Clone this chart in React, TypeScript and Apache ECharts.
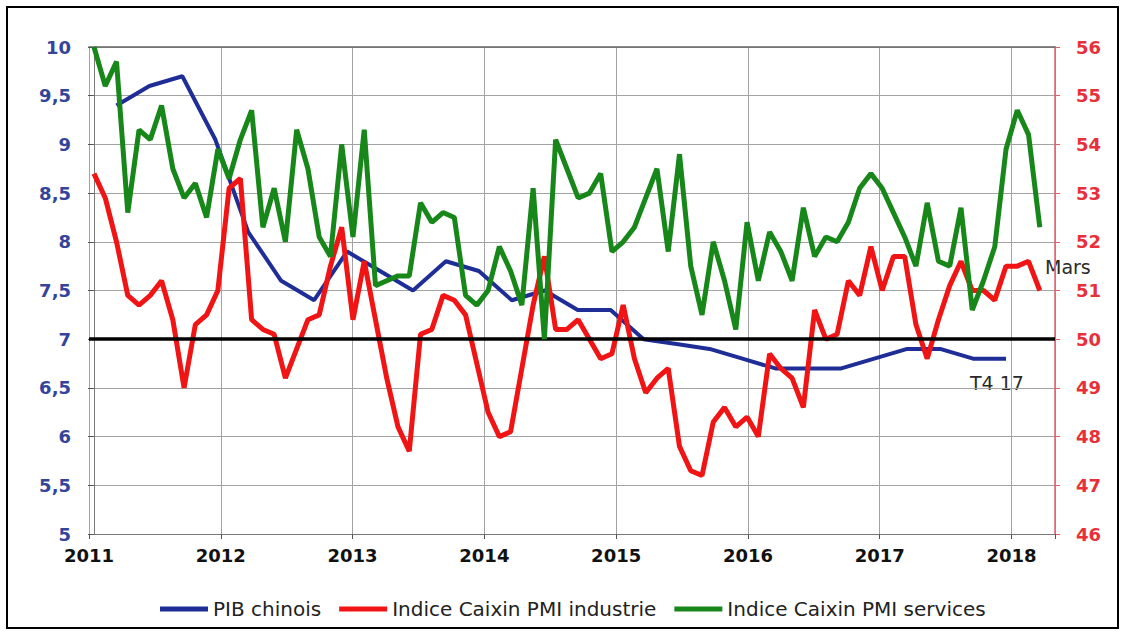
import React, { useEffect, useRef } from 'react';
import * as echarts from 'echarts';

// Axis ticks
const yearTicks = [2011, 2012, 2013, 2014, 2015, 2016, 2017, 2018];

// PIB chinois (glissement annuel, %), trimestriel T1 2011 -> T4 2017
const gdpQuarters = [
  'T1 11', 'T2 11', 'T3 11', 'T4 11',
  'T1 12', 'T2 12', 'T3 12', 'T4 12',
  'T1 13', 'T2 13', 'T3 13', 'T4 13',
  'T1 14', 'T2 14', 'T3 14', 'T4 14',
  'T1 15', 'T2 15', 'T3 15', 'T4 15',
  'T1 16', 'T2 16', 'T3 16', 'T4 16',
  'T1 17', 'T2 17', 'T3 17', 'T4 17',
];
const gdpValues = [
  9.4, 9.6, 9.7, 9.05,
  8.1, 7.6, 7.4, 7.9,
  7.7, 7.5, 7.8, 7.7,
  7.4, 7.5, 7.3, 7.3,
  7.0, 6.95, 6.9, 6.8,
  6.7, 6.7, 6.7, 6.8,
  6.9, 6.9, 6.8, 6.8,
];

// PMI mensuels, mars 2011 -> mars 2018 (85 points)
const pmiIndustrie = [
  53.4, 52.9, 52.0, 50.9, 50.7, 50.9, 51.2, 50.4, 49.0, 50.3,
  50.5, 51.0, 53.1, 53.3, 50.4, 50.2, 50.1, 49.2, 49.8, 50.4,
  50.5, 51.5, 52.3, 50.4, 51.6, 50.4, 49.2, 48.2, 47.7, 50.1,
  50.2, 50.9, 50.8, 50.5, 49.5, 48.5, 48.0, 48.1, 49.4, 50.7,
  51.7, 50.2, 50.2, 50.4, 50.0, 49.6, 49.7, 50.7, 49.6, 48.9,
  49.2, 49.4, 47.8, 47.3, 47.2, 48.3, 48.6, 48.2, 48.4, 48.0,
  49.7, 49.4, 49.2, 48.6, 50.6, 50.0, 50.1, 51.2, 50.9, 51.9,
  51.0, 51.7, 51.7, 50.3, 49.6, 50.4, 51.1, 51.6, 51.0, 51.0,
  50.8, 51.5, 51.5, 51.6, 51.0,
];
const pmiServices = [
  56.0, 55.2, 55.7, 52.6, 54.3, 54.1, 54.8, 53.5, 52.9, 53.2,
  52.5, 53.9, 53.3, 54.1, 54.7, 52.3, 53.1, 52.0, 54.3, 53.5,
  52.1, 51.7, 54.0, 52.1, 54.3, 51.1, 51.2, 51.3, 51.3, 52.8,
  52.4, 52.6, 52.5, 50.9, 50.7, 51.0, 51.9, 51.4, 50.7, 53.1,
  50.0, 54.1, 53.5, 52.9, 53.0, 53.4, 51.8, 52.0, 52.3, 52.9,
  53.5, 51.8, 53.8, 51.5, 50.5, 52.0, 51.2, 50.2, 52.4, 51.2,
  52.2, 51.8, 51.2, 52.7, 51.7, 52.1, 52.0, 52.4, 53.1, 53.4,
  53.1, 52.6, 52.1, 51.5, 52.8, 51.6, 51.5, 52.7, 50.6, 51.2,
  51.9, 53.9, 54.7, 54.2, 52.3,
];

const seriesNames = ['PIB chinois', 'Indice Caixin PMI industrie', 'Indice Caixin PMI services'];
const seriesColors = ['#1f2d96', '#f01414', '#17871a'];
const annotations = [
  { text: 'Mars', x: 1045, y: 267 },
  { text: 'T4 17', x: 970, y: 383 },
];

export default function App() {
  const ref = useRef<HTMLDivElement>(null);

  useEffect(() => {
    if (!ref.current) return;
    const chart = echarts.init(ref.current, null, { renderer: 'svg' });
    const font = "'DejaVu Sans', sans-serif";

    chart.setOption({
      animation: false,
      backgroundColor: '#ffffff',
      textStyle: { fontFamily: font },
      grid: { left: 89, right: 70, top: 47, bottom: 101, containLabel: false },
      legend: {
        data: seriesNames,
        left: 155,
        top: 594,
        icon: 'rect',
        itemWidth: 48,
        itemHeight: 5,
        itemGap: 18,
        selectedMode: false,
        textStyle: { fontSize: 20, color: '#222', fontFamily: font },
      },
      xAxis: [
        {
          type: 'value',
          min: yearTicks[0],
          max: 2018.33,
          interval: 1,
          position: 'bottom',
          axisLine: { show: true, lineStyle: { color: '#7a7a7a', width: 1 } },
          axisTick: { show: true, length: 5, lineStyle: { color: '#555' } },
          axisLabel: {
            formatter: (v: number) => (yearTicks.includes(v) ? String(v) : ''),
            color: '#111',
            fontWeight: 'bold',
            fontSize: 18,
            margin: 12,
            fontFamily: font,
          },
          splitLine: { show: true, lineStyle: { color: '#a3a3a3', width: 1 } },
        },
        {
          type: 'value',
          min: -0.444,
          max: 85.35,
          position: 'top',
          axisLine: { show: true, lineStyle: { color: '#666', width: 1.5 } },
          axisTick: { show: false },
          axisLabel: { show: false },
          splitLine: { show: false },
        },
      ],
      yAxis: [
        {
          type: 'value',
          min: 5,
          max: 10,
          interval: 0.5,
          position: 'left',
          axisLine: { show: true, lineStyle: { color: '#7a7a7a' } },
          axisTick: { show: true, length: 6, lineStyle: { color: '#555' } },
          axisLabel: {
            formatter: (v: number) => String(v).replace('.', ','),
            color: '#34449a',
            fontWeight: 'bold',
            fontSize: 18,
            margin: 18,
            fontFamily: font,
          },
          splitLine: { show: true, lineStyle: { color: '#a3a3a3', width: 1 } },
        },
        {
          type: 'value',
          min: 46,
          max: 56,
          interval: 1,
          position: 'right',
          axisLine: { show: true, lineStyle: { color: '#e06070', width: 1.5 } },
          axisTick: { show: true, length: 5, lineStyle: { color: '#e06070' } },
          axisLabel: {
            color: '#e8303a',
            fontWeight: 'bold',
            fontSize: 18,
            margin: 21,
            fontFamily: font,
          },
          splitLine: { show: false },
        },
      ],
      series: [
        {
          name: seriesNames[0],
          type: 'line',
          xAxisIndex: 0,
          yAxisIndex: 0,
          data: gdpValues.map((v, k) => [2011 + (k * 3 + 2.5) / 12, v, gdpQuarters[k]]),
          symbol: 'none',
          color: seriesColors[0],
          lineStyle: { width: 4, color: seriesColors[0] },
          emphasis: { disabled: true },
          z: 3,
        },
        {
          name: seriesNames[1],
          type: 'line',
          xAxisIndex: 1,
          yAxisIndex: 1,
          data: pmiIndustrie.map((v, i) => [i, v]),
          symbol: 'none',
          color: seriesColors[1],
          lineStyle: { width: 5, color: seriesColors[1] },
          emphasis: { disabled: true },
          z: 4,
          markLine: {
            silent: true,
            symbol: ['none', 'none'],
            label: { show: false },
            lineStyle: { color: '#000', width: 3.5, type: 'solid' },
            data: [{ yAxis: 50 }],
          },
        },
        {
          name: seriesNames[2],
          type: 'line',
          xAxisIndex: 1,
          yAxisIndex: 1,
          data: pmiServices.map((v, i) => [i, v]),
          symbol: 'none',
          clip: false,
          color: seriesColors[2],
          lineStyle: { width: 5, color: seriesColors[2] },
          emphasis: { disabled: true },
          z: 5,
        },
      ],
      graphic: [
        {
          type: 'rect',
          shape: { x: 7, y: 7, width: 1111, height: 621 },
          style: { fill: 'none', stroke: '#000', lineWidth: 2 },
          silent: true,
        },
        ...annotations.map((a) => ({
          type: 'text',
          x: a.x,
          y: a.y,
          style: {
            text: a.text,
            fontSize: 19,
            fontFamily: font,
            fill: '#2a2a2a',
            verticalAlign: 'middle',
          },
          silent: true,
        })),
      ],
    });

    return () => chart.dispose();
  }, []);

  return (
    <div
      ref={ref}
      style={{ position: 'absolute', left: 0, top: 0, width: 1125, height: 635 }}
    />
  );
}
